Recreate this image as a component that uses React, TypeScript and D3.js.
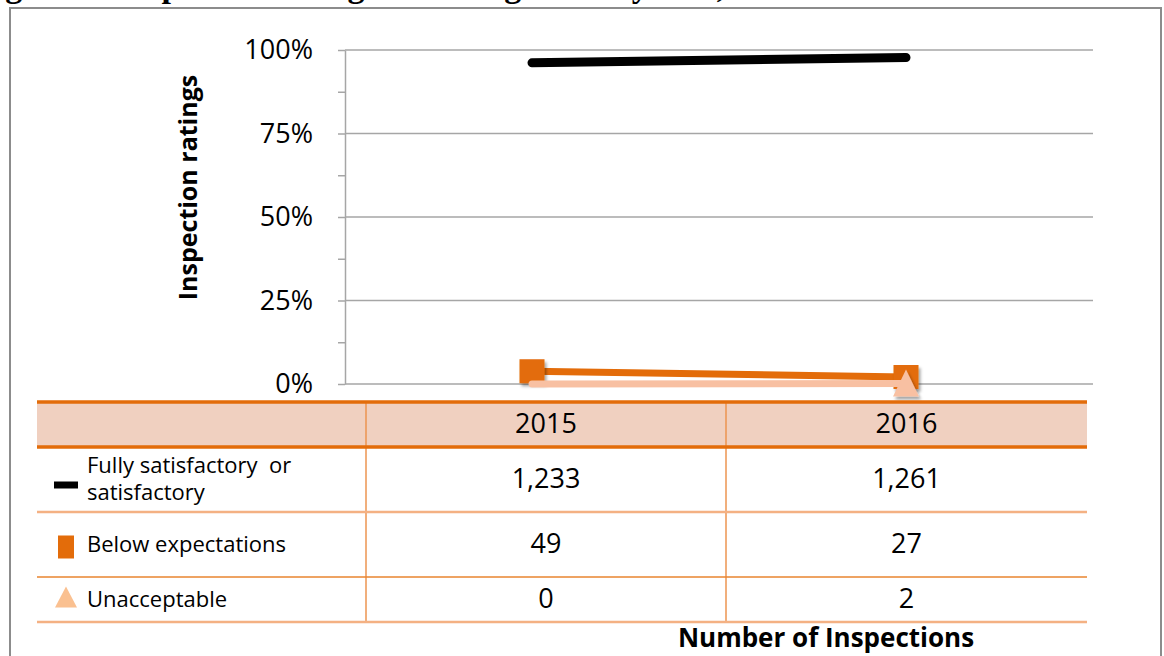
import * as d3 from "d3"
import { useRef, useEffect } from "react"

const years = ["2015", "2016"]
const fully = [1233, 1261]
const below = [49, 27]
const unacceptable = [0, 2]
const yTicks = [0, 0.25, 0.5, 0.75, 1]
const minorTicks = [0, 0.125, 0.25, 0.375, 0.5, 0.625, 0.75, 0.875, 1]

const FONT = "'Open Sans', Lato, sans-serif"

export default function App() {
  const ref = useRef<SVGSVGElement>(null)

  useEffect(() => {
    const width = 1164
    const height = 656
    const plotLeft = 345
    const plotRight = 1093
    const plotTop = 50
    const plotBottom = 384

    const totals = years.map((_, i) => fully[i] + below[i] + unacceptable[i])

    const series = [
      { name: ["Fully satisfactory  or", "satisfactory"], values: fully, color: "#000000", width: 9, marker: "dash" },
      { name: ["Below expectations"], values: below, color: "#E36C0A", width: 7, marker: "square" },
      { name: ["Unacceptable"], values: unacceptable, color: "#F8C0A2", width: 7, marker: "triangle" },
    ]

    const x = d3.scaleBand().domain(years).range([plotLeft, plotRight]).padding(0)
    const cx = (d: string) => (x(d) as number) + x.bandwidth() / 2
    const y = d3.scaleLinear().domain([0, 1]).range([plotBottom, plotTop])

    const svg = d3.select(ref.current)
    svg.selectAll("*").remove()
    svg.attr("width", width).attr("height", height)

    const defs = svg.append("defs")
    const f = defs.append("filter").attr("id", "shadow").attr("x", "-50%").attr("y", "-50%").attr("width", "200%").attr("height", "200%")
    f.append("feDropShadow").attr("dx", 2).attr("dy", 3).attr("stdDeviation", 1.5).attr("flood-color", "#000").attr("flood-opacity", 0.35)

    svg.append("rect").attr("width", width).attr("height", height).attr("fill", "#fff")

    // caption, cut off by the top edge like in the source
    svg.append("text")
      .attr("x", -25).attr("y", -3)
      .attr("font-family", "'Liberation Serif', 'Times New Roman', serif")
      .attr("font-weight", "bold").attr("font-size", 34)
      .text("Figure 4: Inspection ratings of management system, 2015-16")

    // outer frame
    svg.append("rect")
      .attr("x", 10).attr("y", 8).attr("width", 1151).attr("height", 700)
      .attr("fill", "none").attr("stroke", "#8c8c8c").attr("stroke-width", 2)

    // gridlines
    svg.append("g").selectAll("line").data(yTicks).join("line")
      .attr("x1", plotLeft).attr("x2", plotRight)
      .attr("y1", d => y(d)).attr("y2", d => y(d))
      .attr("stroke", "#a6a6a6").attr("stroke-width", 1.5)

    // y axis with minor ticks
    const axis = svg.append("g")
      .attr("transform", `translate(${plotLeft},0)`)
      .call(d3.axisLeft(y).tickValues(minorTicks).tickSize(7).tickSizeOuter(0).tickFormat(() => ""))
    axis.select(".domain").attr("stroke", "#a6a6a6").attr("stroke-width", 1.5)
    axis.selectAll(".tick line").attr("stroke", "#a6a6a6").attr("stroke-width", 1.5)

    svg.append("g").selectAll("text").data(yTicks).join("text")
      .attr("x", 313).attr("y", d => y(d) + 9)
      .attr("text-anchor", "end")
      .attr("font-family", FONT).attr("font-size", 27).attr("fill", "#000")
      .text(d => d3.format(".0%")(d))

    svg.append("text")
      .attr("transform", `translate(197,${(75 + 300) / 2}) rotate(-90)`)
      .attr("text-anchor", "middle")
      .attr("font-family", FONT).attr("font-weight", "bold").attr("font-size", 25)
      .text("Inspection ratings")

    // lines and markers
    const line = d3.line<number>()
      .x((_, i) => cx(years[i]))
      .y((v, i) => y(v / totals[i]))

    series.forEach(s => {
      const g = svg.append("g")
      g.append("path")
        .datum(s.values)
        .attr("d", line)
        .attr("fill", "none")
        .attr("stroke", s.color)
        .attr("stroke-width", s.width)
        .attr("stroke-linecap", "round")
        .attr("stroke-linejoin", "round")
      if (s.marker === "square") {
        g.selectAll("rect").data(s.values).join("rect")
          .attr("x", (_, i) => cx(years[i]) - 12.5)
          .attr("y", (v, i) => y(v / totals[i]) - 12)
          .attr("width", 25).attr("height", 24)
          .attr("fill", s.color).attr("filter", "url(#shadow)")
      }
      if (s.marker === "triangle") {
        g.selectAll("path.tri").data(s.values.map((v, i) => ({ v, i })).filter(d => d.v > 0)).join("path")
          .attr("class", "tri")
          .attr("d", d => {
            const px = cx(years[d.i])
            const py = y(d.v / totals[d.i])
            return `M${px},${py - 14} L${px + 13},${py + 13} L${px - 13},${py + 13} Z`
          })
          .attr("fill", s.color).attr("filter", "url(#shadow)")
      }
    })

    // data table
    const tLeft = 37
    const tRight = 1087
    const colEdges = [366, 726]
    const headTop = 402
    const headBottom = 447
    const rowBottoms = [512, 577, 622]
    const rowTops = [headBottom, rowBottoms[0], rowBottoms[1]]

    svg.append("rect")
      .attr("x", tLeft).attr("y", headTop).attr("width", tRight - tLeft).attr("height", headBottom - headTop)
      .attr("fill", "#F0D0C0")

    svg.append("g").selectAll("line").data(colEdges).join("line")
      .attr("x1", d => d).attr("x2", d => d)
      .attr("y1", headTop).attr("y2", rowBottoms[2])
      .attr("stroke", "#ED9550").attr("stroke-width", 1.5)

    svg.append("g").selectAll("line").data([headTop, headBottom]).join("line")
      .attr("x1", tLeft).attr("x2", tRight)
      .attr("y1", d => d).attr("y2", d => d)
      .attr("stroke", "#E36C0A").attr("stroke-width", 3.5)

    svg.append("g").selectAll("line").data(rowBottoms).join("line")
      .attr("x1", tLeft).attr("x2", tRight)
      .attr("y1", d => d).attr("y2", d => d)
      .attr("stroke", (_, i) => i === 1 ? "#E8842F" : "#F4B183").attr("stroke-width", (_, i) => i === 1 ? 1.5 : 2.5)

    const colCenters = [(colEdges[0] + colEdges[1]) / 2, (colEdges[1] + tRight) / 2]

    svg.append("g").selectAll("text").data(years).join("text")
      .attr("x", (_, i) => colCenters[i]).attr("y", 433)
      .attr("text-anchor", "middle")
      .attr("font-family", FONT).attr("font-size", 27)
      .text(d => d)

    series.forEach((s, r) => {
      const mid = (rowTops[r] + rowBottoms[r]) / 2
      const g = svg.append("g")
      g.selectAll("text.val").data(s.values).join("text")
        .attr("class", "val")
        .attr("x", (_, i) => colCenters[i]).attr("y", mid + 8)
        .attr("text-anchor", "middle")
        .attr("font-family", FONT).attr("font-size", 27)
        .text(d => d3.format(",")(d))
      g.selectAll("text.lab").data(s.name).join("text")
        .attr("class", "lab")
        .attr("x", 87)
        .attr("y", (_, k) => mid + 7 + (k - (s.name.length - 1) / 2) * 27)
        .attr("font-family", FONT).attr("font-size", 22)
        .style("white-space", "pre")
        .text(d => d)
      if (s.marker === "dash") {
        g.append("rect").attr("x", 54).attr("y", mid + 2).attr("width", 24).attr("height", 7).attr("fill", s.color)
      } else if (s.marker === "square") {
        g.append("rect").attr("x", 58).attr("y", mid - 9).attr("width", 16).attr("height", 23).attr("fill", s.color)
      } else {
        g.append("path").attr("d", `M66,${mid - 13} L77,${mid + 8} L55,${mid + 8} Z`).attr("fill", "#FAC090")
      }
    })

    svg.append("text")
      .attr("x", 826).attr("y", 647)
      .attr("text-anchor", "middle")
      .attr("font-family", FONT).attr("font-weight", "bold").attr("font-size", 26)
      .text("Number of Inspections")
  }, [])

  return (
    <div style={{ position: "fixed", left: 0, top: 0 }}>
      <svg ref={ref}></svg>
    </div>
  )
}
